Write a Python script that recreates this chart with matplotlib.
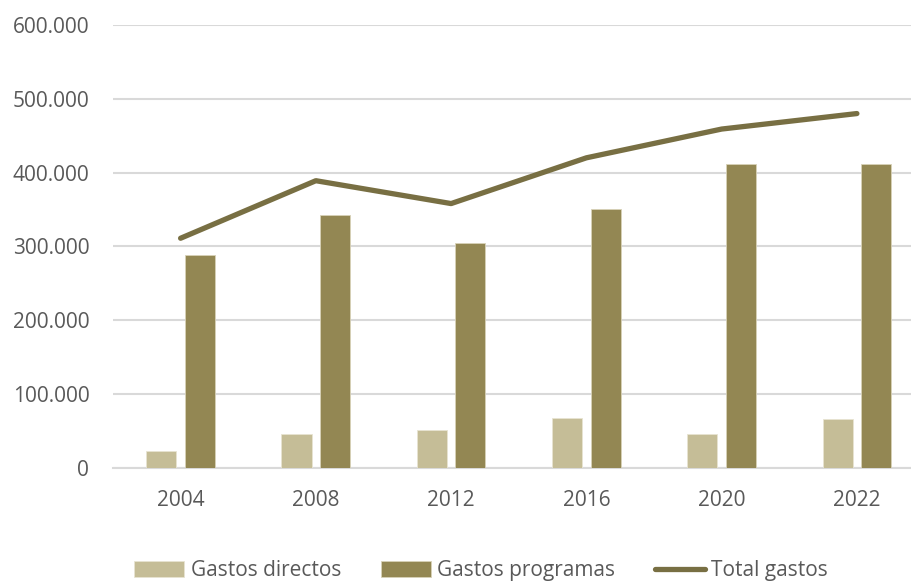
import matplotlib.pyplot as plt
import numpy as np
from matplotlib.ticker import FuncFormatter

plt.rcParams['font.family'] = ['Open Sans', 'DejaVu Sans']

anios = ['2004', '2008', '2012', '2016', '2020', '2022']
gastos_directos = [23000, 45000, 51000, 68000, 46000, 66000]
gastos_programas = [288000, 342000, 305000, 350000, 411000, 412000]
total_gastos = [311000, 389000, 358000, 420000, 459000, 480000]

c_dir = '#C5BD97'
c_prog = '#938753'
c_total = '#786F43'
gris = '#595959'

fig = plt.figure(figsize=(9.11, 5.82), dpi=100)
ax = fig.add_axes([0.124, 0.1964, 0.876, 0.7606])

x = np.arange(len(anios))
ancho = 0.222
b1 = ax.bar(x - 0.143, gastos_directos, ancho, color=c_dir, edgecolor='#E8E4D2', linewidth=0.6,
            label='Gastos directos', zorder=3)
b2 = ax.bar(x + 0.143, gastos_programas, ancho, color=c_prog, edgecolor='#D8D2B8', linewidth=0.6,
            label='Gastos programas', zorder=3)
l1, = ax.plot(x, total_gastos, color=c_total, linewidth=3.8, solid_capstyle='round',
              solid_joinstyle='round', label='Total gastos', zorder=4)

ax.set_ylim(0, 600000)
ax.set_xlim(-0.5, 5.4)
ax.set_yticks(np.arange(0, 600001, 100000))
ax.yaxis.set_major_formatter(FuncFormatter(lambda v, p: f'{int(v):,}'.replace(',', '.')))
ax.set_xticks(x)
ax.set_xticklabels(anios)

ax.grid(axis='y', color='#D9D9D9', linewidth=1.5, zorder=0)
ax.set_axisbelow(True)
for s in ['top', 'right', 'left']:
    ax.spines[s].set_visible(False)
ax.spines['bottom'].set_color('#D9D9D9')
ax.spines['bottom'].set_linewidth(1.5)
ax.tick_params(axis='y', length=0, pad=17, labelsize=15, labelcolor=gris)
ax.tick_params(axis='x', length=0, pad=16, labelsize=15, labelcolor=gris)

fig.legend([b1, b2, l1], ['Gastos directos', 'Gastos programas', 'Total gastos'],
           loc='center', bbox_to_anchor=(0.528, 0.019), ncol=3, frameon=False,
           fontsize=15, labelcolor=gris, handlelength=2.4, handleheight=0.8,
           handletextpad=0.3, columnspacing=1.9, borderaxespad=0)

fig.savefig('out.png', dpi=100)
